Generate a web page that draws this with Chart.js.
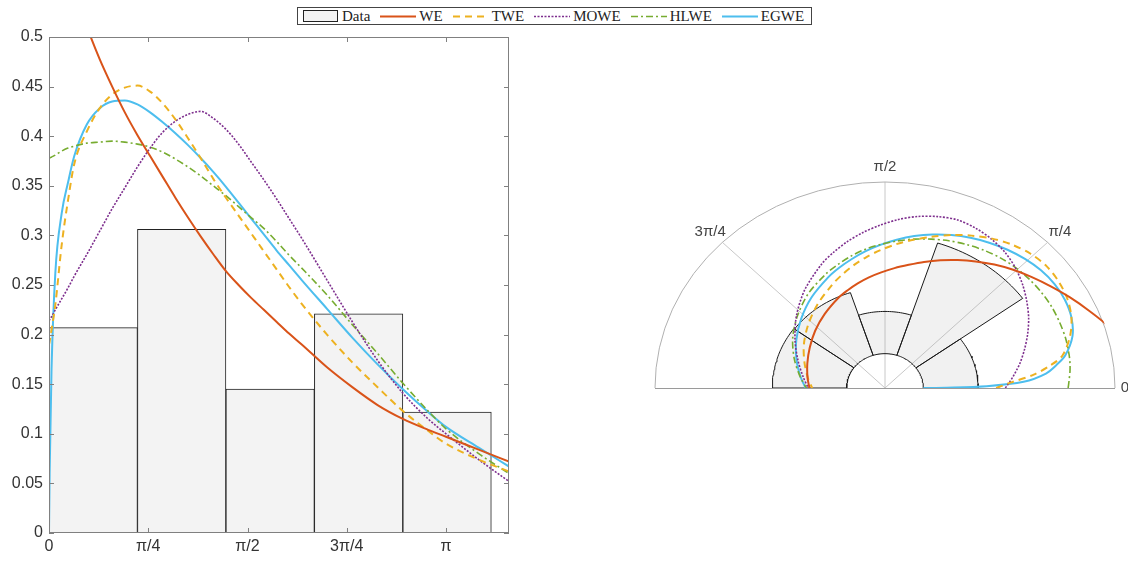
<!DOCTYPE html>
<html>
<head>
<meta charset="utf-8">
<script src="https://cdn.jsdelivr.net/npm/chart.js@4/dist/chart.umd.min.js"></script>
<style>
  html, body { margin: 0; padding: 0; background: #fff; }
  body { width: 1128px; height: 561px; position: relative; overflow: hidden; }
  #hist  { position: absolute; left: 0; top: 0; }
  #polar { position: absolute; left: 640px; top: 140px; }
  #legend {
    position: absolute; left: 297px; top: 7px; width: 509px; height: 16px;
    border: 1px solid #444; background: #fff;
    display: flex; align-items: center; padding-left: 4px; box-sizing: content-box;
    font: 15px "Liberation Serif", "DejaVu Serif", serif; color: #222;
  }
  #legend .item { display: flex; align-items: center; margin-right: 9px; white-space: nowrap; }
  #legend .item canvas { margin-right: 2px; }
</style>
</head>
<body>
<canvas id="hist" width="520" height="561"></canvas>
<canvas id="polar" width="488" height="280"></canvas>
<div id="legend"></div>

<script>
// ─── Data ─────────────────────────────────────────────────────────────────

// angle grid (radians) shared by every fitted density
const theta = [0, 0.005, 0.02, 0.05, 0.1, 0.15, 0.2, 0.3, 0.4, 0.5, 0.6, 0.7, 0.8, 0.9,
               1.0, 1.1, 1.2, 1.3, 1.4, 1.5, 1.6, 1.7, 1.8, 1.9, 2.0, 2.2, 2.4, 2.6,
               2.8, 3.0, Math.PI, 3.4, 3.64];

const seriesNames = ["WE", "TWE", "MOWE", "HLWE", "EGWE"];

const weVals   = [null, null, null, null, 0.62, 0.58, 0.545, 0.51, 0.478, 0.45, 0.424, 0.401, 0.38, 0.359,
                  0.338, 0.318, 0.299, 0.281, 0.264, 0.25, 0.237, 0.225, 0.213, 0.201, 0.19, 0.167, 0.147, 0.129,
                  0.115, 0.104, 0.097, 0.084, 0.072];
const tweVals  = [0.19, 0.193, 0.205, 0.23, 0.29, 0.335, 0.372, 0.405, 0.428, 0.442, 0.449, 0.451, 0.445, 0.433,
                  0.417, 0.398, 0.378, 0.357, 0.338, 0.32, 0.302, 0.284, 0.266, 0.248, 0.231, 0.2, 0.172, 0.147,
                  0.123, 0.103, 0.09, 0.074, 0.062];
const moweVals = [0.214, 0.215, 0.218, 0.225, 0.236, 0.247, 0.259, 0.281, 0.304, 0.327, 0.348, 0.369, 0.388, 0.404,
                  0.415, 0.422, 0.425, 0.418, 0.407, 0.392, 0.374, 0.356, 0.337, 0.317, 0.297, 0.255, 0.213, 0.174,
                  0.141, 0.115, 0.1, 0.074, 0.052];
const hlweVals = [0.378, 0.378, 0.379, 0.381, 0.385, 0.388, 0.39, 0.393, 0.394, 0.395, 0.394, 0.392, 0.389, 0.384,
                  0.377, 0.369, 0.36, 0.35, 0.34, 0.329, 0.318, 0.307, 0.294, 0.28, 0.267, 0.24, 0.21, 0.181,
                  0.151, 0.123, 0.105, 0.08, 0.06];
const egweVals = [0, 0.06, 0.165, 0.262, 0.322, 0.353, 0.38, 0.412, 0.428, 0.435, 0.436, 0.432, 0.424, 0.414,
                  0.403, 0.391, 0.378, 0.364, 0.349, 0.333, 0.317, 0.301, 0.285, 0.27, 0.255, 0.226, 0.197, 0.17,
                  0.145, 0.122, 0.107, 0.086, 0.067];

// histogram (left panel)
const binEdges  = [0, 0.7, 1.4, 2.1, 2.8, 3.5];
const histVals  = [0.207, 0.306, 0.145, 0.221, 0.122];

// rose diagram (right panel), bin edges in degrees
const roseEdgesDeg = [0, 36, 72, 108, 144, 180];
const roseVals     = [0.143, 0.344, 0.123, 0.192, 0.194];

// ticks
const xTickVals   = [0, Math.PI / 4, Math.PI / 2, 3 * Math.PI / 4, Math.PI];
const xTickLabels = ["0", "π/4", "π/2", "3π/4", "π"];
const yTickVals   = [0, 0.05, 0.1, 0.15, 0.2, 0.25, 0.3, 0.35, 0.4, 0.45, 0.5];
const yTickLabels = ["0", "0.05", "0.1", "0.15", "0.2", "0.25", "0.3", "0.35", "0.4", "0.45", "0.5"];
const polarLabelDeg = [0, 45, 90, 135];
const polarLabels   = ["0", "π/4", "π/2", "3π/4"];

// radial limits of the polar panel
const rMin = -0.1;
const rMax = 0.5;

// ─── Styles ───────────────────────────────────────────────────────────────

const seriesVals = [weVals, tweVals, moweVals, hlweVals, egweVals];
const lineStyles = [
  { color: "#D95319", dash: [],           width: 2   },
  { color: "#EDB120", dash: [7, 5],       width: 2   },
  { color: "#7E2F8E", dash: [2, 1.5],     width: 1.6 },
  { color: "#77AC30", dash: [7, 3, 2, 3], width: 1.6 },
  { color: "#4DBEEE", dash: [],           width: 2   },
];
const TICK_FONT = { family: "'Liberation Sans', Arial, sans-serif", size: 16 };

// ─── Left panel: histogram + densities ────────────────────────────────────

const axisBox = {
  id: "axisBox",
  afterDraw(chart) {
    const { ctx, chartArea: a, scales: { x, y } } = chart;
    ctx.save();
    ctx.strokeStyle = "#808080";
    ctx.lineWidth = 1;
    ctx.strokeRect(a.left + 0.5, a.top + 0.5, a.right - a.left - 1, a.bottom - a.top - 1);
    ctx.beginPath();
    x.ticks.forEach(t => {
      const px = Math.round(x.getPixelForValue(t.value)) + 0.5;
      ctx.moveTo(px, a.bottom); ctx.lineTo(px, a.bottom - 5);
      ctx.moveTo(px, a.top);    ctx.lineTo(px, a.top + 5);
    });
    y.ticks.forEach(t => {
      const py = Math.round(y.getPixelForValue(t.value)) + 0.5;
      ctx.moveTo(a.left, py);  ctx.lineTo(a.left + 5, py);
      ctx.moveTo(a.right, py); ctx.lineTo(a.right - 5, py);
    });
    ctx.stroke();
    ctx.restore();
  },
};

const histDatasets = [{
  type: "bar",
  label: "Data",
  data: histVals.map((h, i) => ({ x: (binEdges[i] + binEdges[i + 1]) / 2, y: h })),
  backgroundColor: "#f3f3f3",
  borderColor: "#222",
  borderWidth: 1,
  barPercentage: 1,
  categoryPercentage: 1,
  order: 10,
}];

seriesNames.forEach((name, k) => {
  histDatasets.push({
    type: "line",
    label: name,
    data: theta.map((t, i) => ({ x: t, y: seriesVals[k][i] })),
    borderColor: lineStyles[k].color,
    borderDash: lineStyles[k].dash,
    borderWidth: lineStyles[k].width,
    pointRadius: 0,
    fill: false,
    cubicInterpolationMode: "monotone",
    order: k + 1,
  });
});

new Chart(document.getElementById("hist"), {
  type: "line",
  data: { datasets: histDatasets },
  options: {
    responsive: false,
    animation: false,
    layout: { padding: { top: 37, right: 11, left: 0, bottom: 0 } },
    plugins: { legend: { display: false }, tooltip: { enabled: false } },
    scales: {
      x: {
        type: "linear", min: 0, max: 3.64, offset: false,
        grid: { display: false, drawTicks: false }, border: { display: false },
        afterBuildTicks: s => { s.ticks = xTickVals.map(v => ({ value: v })); },
        afterFit: s => { s.height = 28; },
        ticks: { autoSkip: false, maxRotation: 0, padding: 4, color: "#333", font: TICK_FONT,
                 callback: (v, i) => xTickLabels[i] },
      },
      y: {
        type: "linear", min: 0, max: 0.5,
        grid: { display: false, drawTicks: false }, border: { display: false },
        afterBuildTicks: s => { s.ticks = yTickVals.map(v => ({ value: v })); },
        afterFit: s => { s.width = 49; },
        ticks: { autoSkip: false, padding: 6, color: "#333", font: TICK_FONT,
                 callback: (v, i) => yTickLabels[i] },
      },
    },
  },
  plugins: [axisBox],
});

// ─── Right panel: polar rose + densities ──────────────────────────────────

const R = rMax - rMin;
const deg = d => d * Math.PI / 180;
function toXY(angle, v) {
  const d = v - rMin;
  return { x: d * Math.cos(angle), y: d * Math.sin(angle) };
}

function wedge(a0, a1, v) {
  const pts = [], n = 24;
  for (let k = 0; k <= n; k++) pts.push(toXY(a0 + (a1 - a0) * k / n, 0));
  for (let k = n; k >= 0; k--) pts.push(toXY(a0 + (a1 - a0) * k / n, v));
  pts.push(toXY(a0, 0));
  return pts;
}

const polarFrame = {
  id: "polarFrame",
  beforeDatasetsDraw(chart) {
    const { ctx, scales: { x, y } } = chart;
    const cx = x.getPixelForValue(0), cy = y.getPixelForValue(0);
    const rx = x.getPixelForValue(R) - cx, ry = cy - y.getPixelForValue(R);
    ctx.save();
    ctx.lineWidth = 1;
    // spokes
    ctx.strokeStyle = "#c8c8c8";
    ctx.beginPath();
    polarLabelDeg.filter(d => d > 0).forEach(d => {
      ctx.moveTo(cx, cy);
      ctx.lineTo(cx + rx * Math.cos(deg(d)), cy - ry * Math.sin(deg(d)));
    });
    ctx.stroke();
    // outer ring
    ctx.strokeStyle = "#b0b0b0";
    ctx.beginPath();
    ctx.ellipse(cx, cy, rx, ry, 0, Math.PI, 2 * Math.PI);
    ctx.stroke();
    // baseline
    ctx.strokeStyle = "#9a9a9a";
    ctx.beginPath();
    ctx.moveTo(cx - rx, Math.round(cy) + 0.5);
    ctx.lineTo(cx + rx, Math.round(cy) + 0.5);
    ctx.stroke();
    ctx.restore();

    // keep curves inside the half disc
    ctx.save();
    ctx.beginPath();
    ctx.ellipse(cx, cy, rx + 1, ry + 1, 0, Math.PI, 2 * Math.PI);
    ctx.lineTo(cx + rx + 1, cy + 2);
    ctx.lineTo(cx - rx - 1, cy + 2);
    ctx.closePath();
    ctx.clip();
  },
  afterDatasetsDraw(chart) {
    const { ctx, scales: { x, y } } = chart;
    ctx.restore();
    ctx.save();
    ctx.fillStyle = "#444";
    ctx.font = "15px 'Liberation Sans', Arial, sans-serif";
    ctx.textBaseline = "middle";
    polarLabels.forEach((txt, i) => {
      const a = deg(polarLabelDeg[i]);
      const rl = polarLabelDeg[i] === 0 ? R * 1.025 : R * 1.075;
      ctx.textAlign = polarLabelDeg[i] === 0 ? "left" : "center";
      ctx.fillText(txt, x.getPixelForValue(rl * Math.cos(a)), y.getPixelForValue(rl * Math.sin(a)));
    });
    ctx.restore();
  },
};

const polarDatasets = roseVals.map((v, i) => ({
  type: "line",
  label: "Data",
  data: wedge(deg(roseEdgesDeg[i]), deg(roseEdgesDeg[i + 1]), v),
  borderColor: "#1a1a1a",
  borderWidth: 1,
  backgroundColor: "rgba(170,170,170,0.16)",
  fill: "shape",
  pointRadius: 0,
  tension: 0,
  order: 10,
}));

seriesNames.forEach((name, k) => {
  const pts = [];
  theta.forEach((t, i) => {
    const v = seriesVals[k][i];
    if (v !== null && t <= Math.PI + 1e-9) pts.push(toXY(t, v));
  });
  polarDatasets.push({
    type: "line",
    label: name,
    data: pts,
    borderColor: lineStyles[k].color,
    borderDash: lineStyles[k].dash,
    borderWidth: lineStyles[k].width,
    pointRadius: 0,
    fill: false,
    tension: 0.3,
    order: k + 1,
  });
});

new Chart(document.getElementById("polar"), {
  type: "line",
  data: { datasets: polarDatasets },
  options: {
    responsive: false,
    animation: false,
    layout: { padding: { left: 15, right: 13, top: 42, bottom: 32 } },
    plugins: { legend: { display: false }, tooltip: { enabled: false } },
    scales: {
      x: { type: "linear", min: -R, max: R, display: false },
      y: { type: "linear", min: 0, max: R, display: false },
    },
  },
  plugins: [polarFrame],
});

// ─── Shared legend ────────────────────────────────────────────────────────

const legendEl = document.getElementById("legend");
function addLegendItem(label, draw) {
  const item = document.createElement("div");
  item.className = "item";
  const c = document.createElement("canvas");
  c.width = 38; c.height = 14;
  draw(c.getContext("2d"));
  const s = document.createElement("span");
  s.textContent = label;
  item.append(c, s);
  legendEl.append(item);
}

addLegendItem("Data", ctx => {
  ctx.fillStyle = "#f3f3f3";
  ctx.fillRect(1, 1, 35, 12);
  ctx.strokeStyle = "#222";
  ctx.strokeRect(1.5, 1.5, 34, 11);
});
seriesNames.forEach((name, k) => {
  addLegendItem(name, ctx => {
    ctx.strokeStyle = lineStyles[k].color;
    ctx.lineWidth = lineStyles[k].width;
    ctx.setLineDash(lineStyles[k].dash);
    ctx.beginPath();
    ctx.moveTo(1, 7.5);
    ctx.lineTo(37, 7.5);
    ctx.stroke();
  });
});
</script>
</body>
</html>
